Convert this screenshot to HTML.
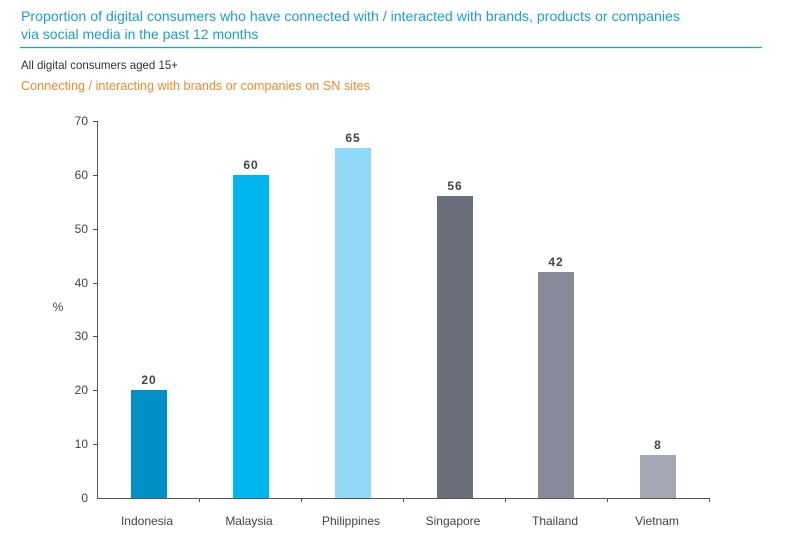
<!DOCTYPE html>
<html><head><meta charset="utf-8"><style>
body{margin:0;background:#fff;width:788px;height:539px;overflow:hidden;font-family:"Liberation Sans",sans-serif}
</style></head><body>
<svg width="788" height="539" xmlns="http://www.w3.org/2000/svg" font-family="Liberation Sans, sans-serif">
<text x="21" y="21" font-size="14" fill="#1a9fd4" textLength="659" lengthAdjust="spacingAndGlyphs">Proportion of digital consumers who have connected with / interacted with brands, products or companies</text>
<text x="21" y="39" font-size="14" fill="#1a9fd4">via social media in the past 12 months</text>
<line x1="20" y1="47.5" x2="762" y2="47.5" stroke="#1a9fd4" stroke-width="1.2"/>
<text x="21" y="69" font-size="12" fill="#333" textLength="157" lengthAdjust="spacingAndGlyphs">All digital consumers aged 15+</text>
<text x="21" y="90" font-size="12.5" fill="#f08a2c" textLength="349" lengthAdjust="spacingAndGlyphs">Connecting / interacting with brands or companies on SN sites</text>
<g stroke="#555" stroke-width="1">
<line x1="97.5" y1="121" x2="97.5" y2="498"/>
<line x1="97" y1="498.5" x2="709" y2="498.5"/>
<line x1="93" y1="121.5" x2="97" y2="121.5"/><line x1="93" y1="175.5" x2="97" y2="175.5"/>
<line x1="93" y1="229.5" x2="97" y2="229.5"/><line x1="93" y1="283.5" x2="97" y2="283.5"/>
<line x1="93" y1="336.5" x2="97" y2="336.5"/><line x1="93" y1="390.5" x2="97" y2="390.5"/>
<line x1="93" y1="444.5" x2="97" y2="444.5"/>
<line x1="199.5" y1="498" x2="199.5" y2="502"/><line x1="301.5" y1="498" x2="301.5" y2="502"/>
<line x1="403.5" y1="498" x2="403.5" y2="502"/><line x1="505.5" y1="498" x2="505.5" y2="502"/>
<line x1="607.5" y1="498" x2="607.5" y2="502"/><line x1="709.5" y1="498" x2="709.5" y2="502"/>
</g>
<g font-size="12" fill="#444" text-anchor="end">
<text x="88" y="125">70</text><text x="88" y="179">60</text><text x="88" y="233">50</text>
<text x="88" y="287">40</text><text x="88" y="340">30</text><text x="88" y="394">20</text>
<text x="88" y="448">10</text><text x="88" y="502">0</text>
</g>
<text x="58" y="311" font-size="12" fill="#444" text-anchor="middle">%</text>
<rect x="131" y="390" width="36" height="108" fill="#0090c8"/>
<rect x="233" y="175" width="36" height="323" fill="#00b6ef"/>
<rect x="335" y="148" width="36" height="350" fill="#8fd8f6"/>
<rect x="437" y="196" width="36" height="302" fill="#6b6f7b"/>
<rect x="538" y="272" width="36" height="226" fill="#878a98"/>
<rect x="640" y="455" width="36" height="43" fill="#a5a7b4"/>
<g font-size="12" font-weight="bold" fill="#444" text-anchor="middle" letter-spacing="1">
<text x="149" y="384">20</text><text x="251" y="169">60</text><text x="353" y="142">65</text>
<text x="455" y="190">56</text><text x="556" y="266">42</text><text x="658" y="449">8</text>
</g>
<g font-size="12" fill="#444" text-anchor="middle">
<text x="147" y="525">Indonesia</text><text x="249" y="525">Malaysia</text><text x="351" y="525">Philippines</text>
<text x="453" y="525">Singapore</text><text x="555" y="525">Thailand</text><text x="657" y="525">Vietnam</text>
</g>
</svg>
</body></html>
